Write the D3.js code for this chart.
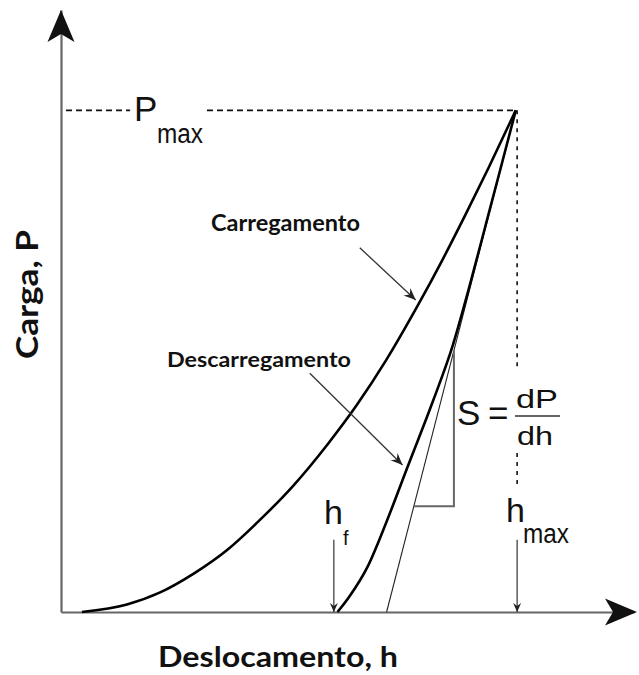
<!DOCTYPE html>
<html>
<head>
<meta charset="utf-8">
<script src="https://cdn.jsdelivr.net/npm/d3@7"></script>
<style>
  body { margin: 0; background: #fff; }
  .label { font-family: Lato, "Open Sans", sans-serif; font-weight: bold; fill: #111; }
  .sym { font-family: "Liberation Sans", Arial, sans-serif; fill: #111; }
</style>
</head>
<body>
<script>
// loading / unloading curve (h and P in % of max)
var hLoad = [4.6, 14.5, 21.8, 29.1, 36.6, 43.8, 51.1, 58.6, 65, 71.5, 78.4, 84, 89, 94, 100];
var pLoad = [0, 1.5, 3.9, 7.6, 12.4, 18.4, 25.2, 33.4, 41.2, 50.2, 61.0, 70.4, 79.3, 88.5, 100];

var hUnload = [60.8, 63.5, 67.4, 71.5, 76.2, 81.9, 86.1, 89.7, 93.2, 96.6, 100];
var pUnload = [0, 3.2, 9.0, 17.8, 28.9, 42.3, 53.0, 64.5, 76.5, 88.2, 100];

// tangent at the start of unloading
var hTangent = [71.6, 100];
var pTangent = [0, 100];

var hMax = 100, pMax = 100, hF = 60.8;
var xTitle = "Deslocamento, h";
var yTitle = "Carga, P";
var curveNames = ["Carregamento", "Descarregamento"];

var width = 639, height = 675;

var svg = d3.select("body").append("svg")
    .attr("width", width)
    .attr("height", height);

var xScale = d3.scaleLinear().domain([0, 126]).range([61, 634]);
var yScale = d3.scaleLinear().domain([0, 120]).range([612, 10]);

var defs = svg.append("defs");
var addHead = function(id, len, half, notch, color) {
    defs.append("marker")
        .attr("id", id)
        .attr("viewBox", (-len - 1) + " " + (-half - 1) + " " + (len + 2) + " " + (2 * half + 2))
        .attr("markerWidth", len + 2)
        .attr("markerHeight", 2 * half + 2)
        .attr("markerUnits", "userSpaceOnUse")
        .attr("refX", 0).attr("refY", 0)
        .attr("orient", "auto")
        .append("path")
        .attr("d", "M0,0L" + (-len) + "," + (-half) + "L" + (-notch) + ",0L" + (-len) + "," + half + "Z")
        .attr("fill", color);
};
addHead("small", 9, 4, 6, "#222");
addHead("mid", 12, 5, 8, "#222");

// axes (no ticks, only the domain line)
var xAxis = d3.axisBottom(xScale).ticks(0).tickSizeOuter(0);
var yAxis = d3.axisLeft(yScale).ticks(0).tickSizeOuter(0);

var axes = svg.append("g");
axes.append("g")
    .attr("transform", "translate(0," + yScale(0) + ")")
    .call(xAxis);
axes.append("g")
    .attr("transform", "translate(" + xScale(0) + ",0)")
    .call(yAxis);
axes.selectAll(".domain")
    .attr("stroke", "#666")
    .attr("stroke-width", 2.2);

// arrow heads of the axes
var bigHead = "M0,0L-13.5,32L0,24L13.5,32Z";
axes.append("path")
    .attr("d", bigHead)
    .attr("transform", "translate(" + xScale(0) + "," + yScale(120) + ")")
    .attr("fill", "#111");
axes.append("path")
    .attr("d", bigHead)
    .attr("transform", "translate(" + (xScale(126) + 3) + "," + yScale(0) + ") rotate(90)")
    .attr("fill", "#111");

var lineGen = d3.line()
    .x(function(d) { return xScale(d[0]); })
    .y(function(d) { return yScale(d[1]); });

// dashed guides for Pmax and hmax
var guides = svg.append("g")
    .attr("fill", "none")
    .attr("stroke", "#111")
    .attr("stroke-width", 1.6);
guides.append("path")
    .attr("d", lineGen([[1.1, pMax], [15.2, pMax]]))
    .attr("stroke-dasharray", "6,4");
guides.append("path")
    .attr("d", lineGen([[32.1, pMax], [hMax, pMax]]))
    .attr("stroke-dasharray", "6,4");
guides.append("path")
    .attr("d", lineGen([[hMax + 0.3, pMax], [hMax + 0.3, 48.8]]))
    .attr("stroke-dasharray", "4,5");
guides.append("path")
    .attr("d", lineGen([[hMax + 0.3, 31.7], [hMax + 0.3, 24.9]]))
    .attr("stroke-dasharray", "4,5");

// tangent and stiffness triangle
var tangentAt = d3.scaleLinear().domain(hTangent).range(pTangent);
var hAt = d3.scaleLinear().domain(pTangent).range(hTangent);
svg.append("path")
    .attr("d", lineGen(hTangent.map(function(h, i) { return [h, pTangent[i]]; })))
    .attr("fill", "none")
    .attr("stroke", "#222")
    .attr("stroke-width", 1.1);

var triH = 86.4, triP = 21.1;
svg.append("path")
    .attr("d", lineGen([[hAt(triP), triP], [triH, triP], [triH, tangentAt(triH)]]))
    .attr("fill", "none")
    .attr("stroke", "#666")
    .attr("stroke-width", 2);

// curves
var curveGen = d3.line()
    .x(function(d) { return xScale(d[0]); })
    .y(function(d) { return yScale(d[1]); })
    .curve(d3.curveMonotoneX);

svg.append("path")
    .datum(hLoad.map(function(h, i) { return [h, pLoad[i]]; }))
    .attr("d", curveGen)
    .attr("fill", "none")
    .attr("stroke", "#000")
    .attr("stroke-width", 2.6);
svg.append("path")
    .datum(hUnload.map(function(h, i) { return [h, pUnload[i]]; }))
    .attr("d", curveGen)
    .attr("fill", "none")
    .attr("stroke", "#000")
    .attr("stroke-width", 2.6);

// arrows pointing at hf and hmax
[hF - 0.8, hMax + 0.3].forEach(function(h) {
    svg.append("path")
        .attr("d", lineGen([[h, 14.4], [h, 0]]))
        .attr("stroke", "#333")
        .attr("stroke-width", 1.2)
        .attr("marker-end", "url(#small)");
});

// arrows to the curves
svg.append("path")
    .attr("d", lineGen([[65.7, 72.6], [78.0, 62.2]]))
    .attr("stroke", "#333")
    .attr("stroke-width", 1.3)
    .attr("marker-end", "url(#mid)");
svg.append("path")
    .attr("d", lineGen([[54.7, 47.6], [75.1, 29.3]]))
    .attr("stroke", "#333")
    .attr("stroke-width", 1.3)
    .attr("marker-end", "url(#mid)");

// texts
var addText = function(cls, txt, x, y, size, len) {
    var t = svg.append("text")
        .attr("class", cls)
        .attr("x", x).attr("y", y)
        .attr("font-size", size)
        .text(txt);
    if (len) {
        t.attr("textLength", len).attr("lengthAdjust", "spacingAndGlyphs");
    }
    return t;
};

addText("label", curveNames[0], 211, 231, 22, 149);
addText("label", curveNames[1], 167, 367, 20, 184);
addText("label", xTitle, 158, 667, 28, 240);
svg.append("text")
    .attr("class", "label")
    .attr("transform", "translate(38,359) rotate(-90)")
    .attr("font-size", 31)
    .attr("textLength", 129)
    .attr("lengthAdjust", "spacingAndGlyphs")
    .text(yTitle);

addText("sym", "P", 134, 121, 35);
addText("sym", "max", 157, 143, 27, 46);
addText("sym", "h", 324, 524, 34);
addText("sym", "f", 343, 545, 20);
addText("sym", "h", 506, 522, 34);
addText("sym", "max", 523, 543, 27, 46);
addText("sym", "S", 457, 425, 35);
addText("sym", "=", 488, 425, 35);
addText("sym", "dP", 516, 408, 25, 42);
addText("sym", "dh", 517, 445, 25, 36);
svg.append("line")
    .attr("x1", 515).attr("x2", 560)
    .attr("y1", 416).attr("y2", 416)
    .attr("stroke", "#333")
    .attr("stroke-width", 1.5);
</script>
</body>
</html>
